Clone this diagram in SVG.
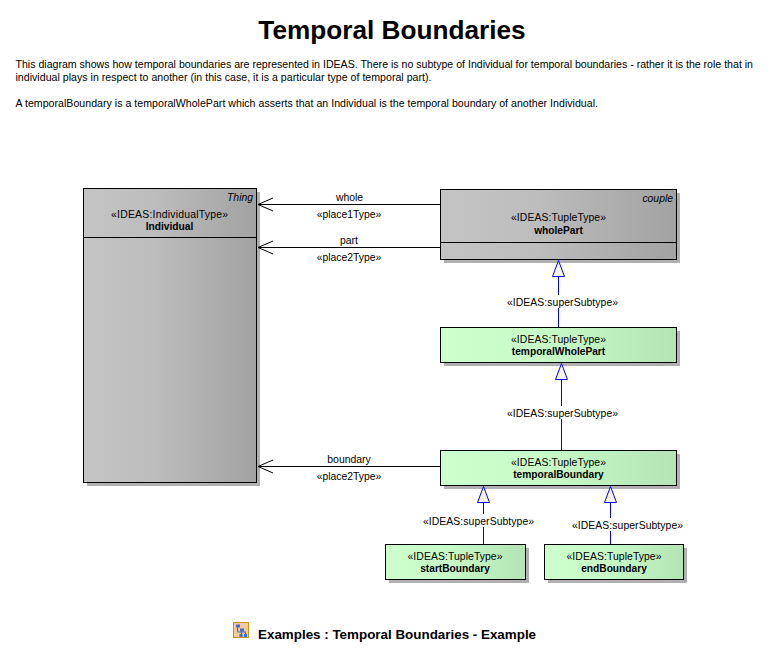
<svg xmlns="http://www.w3.org/2000/svg" width="773" height="671" viewBox="0 0 773 671">
<style>
text{font-family:"Liberation Sans",Arial,sans-serif;fill:#000}
.t{font-size:10.4px;text-anchor:middle}
.b{font-weight:bold}
.nb{font-size:10.2px}
.i{font-style:italic;text-anchor:end}
.d{font-size:10.6px}
.sh{fill:#b0b0b0}
.box{stroke:#000;stroke-width:1}
.g{fill:url(#grey)}
.n{fill:url(#green)}
.c{fill:none;stroke:#000;stroke-width:1}
.bl{fill:none;stroke:#0000ff;stroke-width:1}
.tri{fill:#f7f2ea;stroke:#0000ff;stroke-width:1}
.ic{fill:#3a6fd8}
</style>
<defs>
<linearGradient id="grey"><stop offset="0" stop-color="#c4c4c4"/><stop offset=".4" stop-color="#bdbdbd"/><stop offset="1" stop-color="#a2a2a2"/></linearGradient>
<linearGradient id="green"><stop offset="0" stop-color="#ccffcc"/><stop offset=".4" stop-color="#c9fbc9"/><stop offset="1" stop-color="#b4e4b4"/></linearGradient>
</defs>
<rect width="773" height="671" fill="#fff"/>
<text x="392" y="39" font-size="26.2" class="b" text-anchor="middle">Temporal Boundaries</text>
<text x="15.500" y="67.500" class="d" textLength="737.500">This diagram shows how temporal boundaries are represented in IDEAS. There is no subtype of Individual for temporal boundaries - rather it is the role that in</text>
<text x="15.500" y="81" class="d" textLength="416">individual plays in respect to another (in this case, it is a particular type of temporal part).</text>
<text x="15.500" y="107" class="d" textLength="582.500">A temporalBoundary is a temporalWholePart which asserts that an Individual is the temporal boundary of another Individual.</text>

<g id="Individual">
<rect class="sh" x="87" y="192" width="173" height="294"/>
<rect class="box g" x="83.500" y="188.500" width="173" height="294"/>
<path class="c" d="M83.500 237.500H256.500"/>
<text class="t i" x="253" y="201">Thing</text>
<text class="t" x="169.500" y="218" textLength="117">«IDEAS:IndividualType»</text>
<text class="t b nb" x="169.500" y="230">Individual</text>
</g>
<g id="wholePart">
<rect class="sh" x="444" y="193" width="236" height="70"/>
<rect class="box g" x="440.500" y="189.500" width="236" height="70"/>
<path class="c" d="M440.500 242.500H676.500"/>
<text class="t i" x="673" y="202">couple</text>
<text class="t" x="558.500" y="221" textLength="95">«IDEAS:TupleType»</text>
<text class="t b nb" x="558.500" y="234">wholePart</text>
</g>
<g id="temporalWholePart">
<rect class="sh" x="444" y="331" width="236" height="35"/>
<rect class="box n" x="440.500" y="327.500" width="236" height="35"/>
<text class="t" x="558.500" y="343" textLength="95">«IDEAS:TupleType»</text>
<text class="t b nb" x="558.500" y="355">temporalWholePart</text>
</g>
<g id="temporalBoundary">
<rect class="sh" x="444" y="454" width="236" height="35"/>
<rect class="box n" x="440.500" y="450.500" width="236" height="35"/>
<text class="t" x="558.500" y="466" textLength="95">«IDEAS:TupleType»</text>
<text class="t b nb" x="558.500" y="478">temporalBoundary</text>
</g>
<g id="startBoundary">
<rect class="sh" x="389" y="548" width="140" height="35"/>
<rect class="box n" x="385.500" y="544.500" width="140" height="35"/>
<text class="t" x="455" y="560" textLength="95">«IDEAS:TupleType»</text>
<text class="t b nb" x="455" y="572">startBoundary</text>
</g>
<g id="endBoundary">
<rect class="sh" x="548" y="548" width="139" height="35"/>
<rect class="box n" x="544.500" y="544.500" width="139" height="35"/>
<text class="t" x="614" y="560" textLength="95">«IDEAS:TupleType»</text>
<text class="t b nb" x="614" y="572">endBoundary</text>
</g>

<g id="connectors">
<path class="c" d="M440 204.500H258M273 198L258 204.500L273 211"/>
<path class="c" d="M440 247.500H258M273 241L258 247.500L273 254"/>
<path class="c" d="M440 466.500H258M273 460L258 466.500L273 473"/>
<path class="bl" d="M558.500 276V327"/>
<path class="tri" d="M558.500 260.500L552.500 276.500H564.500Z"/>
<path class="bl" d="M561.500 379V450"/>
<path class="tri" d="M561.500 363.500L555.500 379.500H567.500Z"/>
<path class="bl" d="M483.500 502V544"/>
<path class="tri" d="M483.500 486.500L477.500 502.500H489.500Z"/>
<path class="bl" d="M610.500 502V544"/>
<path class="tri" d="M610.500 486.500L604.500 502.500H616.500Z"/>
</g>
<g id="connector-labels">
<text class="t" x="349.500" y="200.500">whole</text>
<text class="t" x="349" y="217.500">«place1Type»</text>
<text class="t" x="349" y="243.500">part</text>
<text class="t" x="349" y="260.500">«place2Type»</text>
<text class="t" x="349" y="462.500">boundary</text>
<text class="t" x="349" y="479.500">«place2Type»</text>
<rect x="507" y="295" width="111" height="13" fill="#fff"/>
<text class="t" x="562.500" y="305.500" textLength="111">«IDEAS:superSubtype»</text>
<rect x="507" y="406" width="111" height="13" fill="#fff"/>
<text class="t" x="562.500" y="416.500" textLength="111">«IDEAS:superSubtype»</text>
<rect x="423" y="514" width="111" height="13" fill="#fff"/>
<text class="t" x="478.500" y="524.500" textLength="111">«IDEAS:superSubtype»</text>
<rect x="572" y="518" width="111" height="13" fill="#fff"/>
<text class="t" x="627.500" y="528.500" textLength="111">«IDEAS:superSubtype»</text>
</g>

<g id="example-link">
<rect x="233.500" y="622.500" width="15" height="15" fill="#f7c89a" stroke="#c8920a"/>
<path d="M237.500 627V632H246M241.500 630V635M245.500 632V635" fill="none" stroke="#3a6fd8"/>
<path class="ic" d="M236 624.500h4v3h-4zM240 628.500h4v3h-4zM239.500 634h3v3h-3zM244 634h3v3h-3z"/>
<text x="258" y="639" font-size="13.4" class="b">Examples : Temporal Boundaries - Example</text>
</g>
</svg>
